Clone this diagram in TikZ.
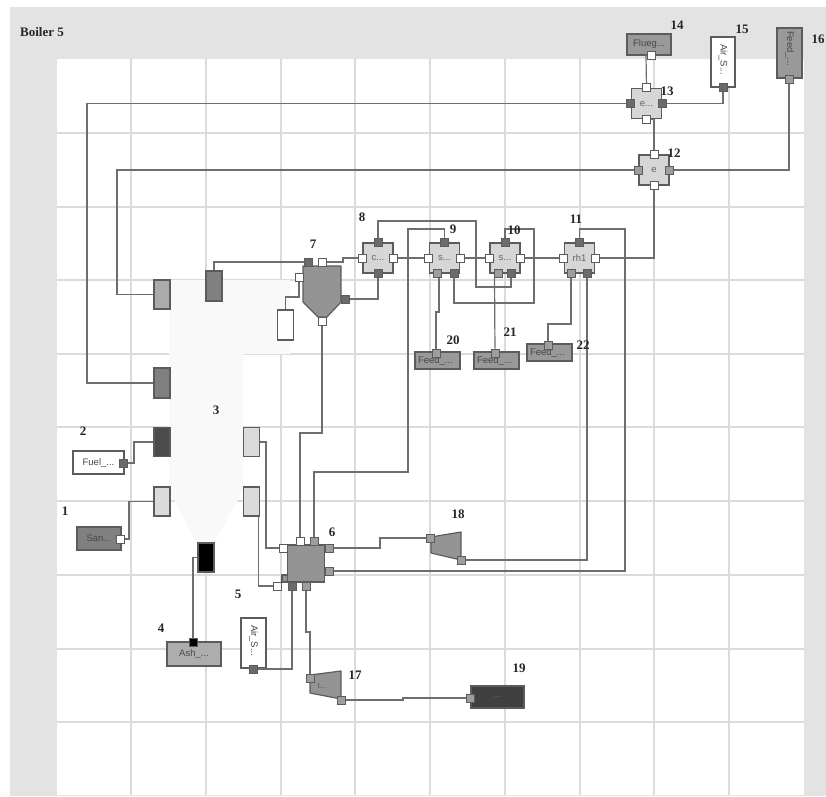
\documentclass[tikz,border=0pt]{standalone}
\usepackage{fontspec}
\setmainfont{Liberation Serif}
\setsansfont{Liberation Sans}
\usetikzlibrary{positioning}
\definecolor{panelclr}{rgb}{0.89, 0.89, 0.89}
\definecolor{gridclr}{rgb}{0.86, 0.86, 0.86}
\definecolor{furnclr}{rgb}{0.975, 0.975, 0.975}
\definecolor{lineclr}{rgb}{0.43, 0.43, 0.43}
\definecolor{edgeclr}{rgb}{0.36, 0.36, 0.36}
\definecolor{hxclr}{rgb}{0.84, 0.84, 0.84}
\definecolor{unitclr}{rgb}{0.58, 0.58, 0.58}
\definecolor{feedclr}{rgb}{0.6, 0.6, 0.6}
\tikzset{ %
  ,tag/.style={font=\fontsize{13}{13}\selectfont\bfseries, inner sep=0, text=black!85}
  ,block/.style={draw=edgeclr, line width=1.2pt, rectangle, inner sep=0, font=\fontsize{9.5}{10}\selectfont\sffamily, text=black!72}
  ,feed/.style={block, fill=feedclr, minimum width=45pt, minimum height=17pt, text width=39pt, align=left}
  ,vblock/.style={block, rotate=-90, minimum width=50pt, minimum height=24pt, align=left}
  ,stub/.style={draw=edgeclr, line width=1.2pt, rectangle, inner sep=0, minimum width=16pt, minimum height=29pt}
  ,hx/.style={block, fill=hxclr, minimum size=30pt, text=black!60}
  ,portw/.style={draw=edgeclr, line width=1pt, rectangle, inner sep=0, minimum size=8pt, fill=white}
  ,portm/.style={portw, fill=black!38}
  ,portd/.style={portw, fill=black!58}
  ,pipe/.style={draw=lineclr, line width=1.2pt}
  ,unit/.style={draw=edgeclr, line width=1.2pt, fill=unitclr, line join=round}
}
\begin{document}
\begin{tikzpicture}[x=1pt, y=-1pt]
    \useasboundingbox (0,0) rectangle (826,796);
    \fill[white] (0,0) rectangle (826,796);
    \fill[panelclr] (10,7) rectangle (826,796);
    \fill[white] (57,59) rectangle (804,795);
    \foreach \gx in {131,206,281,355,430,505,580,654,729}
      \draw[gridclr, line width=1.5pt] (\gx,59) -- (\gx,795);
    \foreach \gy in {133,207,280,354,427,501,575,649,722}
      \draw[gridclr, line width=1.5pt] (57,\gy) -- (804,\gy);
    \fill[furnclr] (169,280) -- (290,280) -- (290,354) -- (243,354) -- (243,490) -- (213,545) -- (198,545) -- (169,490) -- cycle;

    % units with their own outline
    \draw[unit] (303,266) -- (341,266) -- (341,302) -- (327,317) -- (318,317) -- (303,302) -- cycle;
    \draw[unit] (431,537) -- (461,532) -- (461,560) -- (431,553) -- cycle;
    \draw[unit] (310,675) -- (341,671) -- (341,699) -- (310,693) -- cycle;
    \draw[unit] (282,582) -- (282,575) -- (288,575) -- (288,582) -- cycle;
    \node[block, fill=unitclr, minimum width=37pt, minimum height=37pt] (mix) at (306,563.5) {};
    \node[font=\fontsize{8}{8}\selectfont\sffamily, text=black!65, inner sep=0] (turbtxt) at (322,686) {t...};

    % boxes on the outside
    \draw
    node[block, fill=feedclr, minimum width=44pt, minimum height=21pt] (flue) at (649,44.5) {Flueg...}
    node[vblock, fill=white, text width=36pt] (airtop) at (723,62) {Air\_S...}
    node[vblock, fill=feedclr, text width=44pt, minimum height=25pt] (feedtop) at (789.5,53) {Feed\_...}
    node[feed] (feeda) at (437.5,360.5) {Feed\_...}
    node[feed] (feedb) at (496.5,360.5) {Feed\_...}
    node[feed] (feedc) at (549.5,352.5) {Feed\_...}
    node[block, fill=white, minimum width=51pt, minimum height=23pt] (fuel) at (98.5,462.5) {Fuel\_...}
    node[block, fill=black!50, minimum width=44pt, minimum height=23pt] (sand) at (99,538.5) {San...}
    node[block, fill=black!32, minimum width=54pt, minimum height=24pt] (ash) at (194,654) {Ash\_...}
    node[vblock, fill=white, text width=36pt, minimum height=25pt] (airbot) at (253.5,643) {Air\_S...}
    node[block, fill=black!75, minimum width=53pt, minimum height=22pt, text=black!60] (stack) at (497.5,697) {...};

    % furnace side boxes
    \draw
    node[stub, fill=black!33] (wallb) at (162,294.5) {}
    node[stub, fill=black!50, minimum height=30pt] (walla) at (162,383) {}
    node[stub, fill=black!70] (burner) at (162,442) {}
    node[stub, fill=black!14] (sandin) at (162,501.5) {}
    node[stub, fill=black!50, minimum height=30pt] (flueout) at (214,286) {}
    node[stub, fill=white, minimum height=30pt] (cyclin) at (285.5,325) {}
    node[stub, fill=black!14] (airr) at (251.5,442) {}
    node[stub, fill=black!14] (airs) at (251.5,501.5) {}
    node[stub, fill=black] (ashout) at (206,557.5) {};

    % exchangers
    \draw
    node[hx] (ecoa) at (646.5,103.5) {e...}
    node[hx] (ecob) at (654,170) {e}
    node[hx] (cond) at (378,258) {c...}
    node[hx] (sha) at (444.5,258) {s...}
    node[hx] (shb) at (505,258) {s...}
    node[hx] (rha) at (579.5,258) {rh1};

    % ports
    \draw
    node[portw] (pflue) at (651,55) {}
    node[portd] (pairtop) at (723,87) {}
    node[portm] (pfeedtop) at (789,79) {}
    node[portw] (pecoan) at (ecoa.north) {}
    node[portw] (pecoas) at (ecoa.south) {}
    node[portd] (pecoaw) at (ecoa.west) {}
    node[portd] (pecoae) at (ecoa.east) {}
    node[portw] (pecobn) at (ecob.north) {}
    node[portw] (pecobs) at (ecob.south) {}
    node[portm] (pecobw) at (ecob.west) {}
    node[portm] (pecobe) at (ecob.east) {}
    node[portw] (pcondw) at (cond.west) {}
    node[portw] (pconde) at (cond.east) {}
    node[portd] (pcondn) at (cond.north) {}
    node[portd] (pconds) at (cond.south) {}
    node[portw] (pshaw) at (sha.west) {}
    node[portw] (pshae) at (sha.east) {}
    node[portd] (pshan) at (sha.north) {}
    node[portm] (pshal) at (437,273) {}
    node[portd] (pshar) at (454,273) {}
    node[portw] (pshbw) at (shb.west) {}
    node[portw] (pshbe) at (shb.east) {}
    node[portd] (pshbn) at (shb.north) {}
    node[portm] (pshbl) at (498,273) {}
    node[portd] (pshbr) at (511,273) {}
    node[portw] (prhaw) at (rha.west) {}
    node[portw] (prhae) at (rha.east) {}
    node[portd] (prhan) at (rha.north) {}
    node[portm] (prhal) at (571,273) {}
    node[portd] (prhar) at (587,273) {}
    node[portm] (pfeeda) at (436,353) {}
    node[portm] (pfeedb) at (495,353) {}
    node[portm] (pfeedc) at (548,345) {};
    \draw
    node[portd] (pcyca) at (308,262) {}
    node[portw] (pcycb) at (322,262) {}
    node[portw] (pcycw) at (299,277) {}
    node[portd] (pcyce) at (345,299) {}
    node[portw] (pcycs) at (322,321) {}
    node[portw] (pmixa) at (300,541) {}
    node[portm] (pmixb) at (314,541) {}
    node[portw] (pmixw) at (283,548) {}
    node[portw] (pmixv) at (277,586) {}
    node[portm] (pmixe) at (329,548) {}
    node[portm] (pmixf) at (329,571) {}
    node[portd] (pmixs) at (292,586) {}
    node[portm] (pmixt) at (306,586) {}
    node[portm] (pturbai) at (430,538) {}
    node[portm] (pturbao) at (461,560) {}
    node[portm] (pturbbi) at (310,678) {}
    node[portm] (pturbbo) at (341,700) {}
    node[portm] (pstack) at (470,698) {}
    node[portd] (pfuel) at (123,463) {}
    node[portw] (psand) at (120,539) {}
    node[portd] (pairbot) at (253,669) {}
    node[portd, fill=black] (pash) at (193,642) {};

    % pipes
    \draw[pipe] (pflue) -- (646,55) -- (pecoan);
    \draw[pipe] (pecoas) -| (pecobn);
    \draw[pipe] (pecoae) -| (pairtop);
    \draw[pipe] (pecoaw) -- (87,103.5) -- (87,383) -- (walla);
    \draw[pipe] (pecobw) -- (117,170) -- (117,294.5) -- (wallb);
    \draw[pipe] (pecobe) -| (pfeedtop);
    \draw[pipe] (pecobs) |- (prhae);
    \draw[pipe] (prhaw) -- (pshbe);
    \draw[pipe] (pshbw) -- (pshae);
    \draw[pipe] (pshaw) -- (pconde);
    \draw[pipe] (pcycb) -- (343,262) -- (343,258) -- (pcondw);
    \draw[pipe] (pcyca) -- (214,262) -- (flueout);
    \draw[pipe] (pcycw) -- (299,297) -- (285.5,297) -- (cyclin);
    \draw[pipe] (pcyce) -| (pconds);
    \draw[pipe] (pcycs) -- (322,433) -- (300,433) -- (pmixa);
    \draw[pipe] (pmixb) -- (314,472) -- (408,472) -- (408,229) -- (444.5,229) -- (pshan);
    \draw[pipe] (pcondn) -- (378,221) -- (476,221) -- (476,287) -- (511,287) -- (pshbr);
    \draw[pipe] (pshar) -- (454,303) -- (534,303) -- (534,229) -- (505,229) -- (pshbn);
    \draw[pipe] ([xshift=2pt]pshal.south) -- (439,312) -- (436,312) -- (pfeeda);
    \draw[pipe] ([xshift=1pt]pshbl.south west) -- (pfeedb);
    \draw[pipe] (prhal) -- (571,324) -- (548,324) -- (pfeedc);
    \draw[pipe] (prhar) -- (587,560) -- (pturbao);
    \draw[pipe] (prhan) -- (579.5,229) -- (625,229) -- (625,571) -- (pmixf);
    \draw[pipe] (pmixe) -- (380,548) -- (380,538) -- (pturbai);
    \draw[pipe] (pmixw) -- (266,548) -- (266,442) -- (airr);
    \draw[pipe] (pmixv) -| ([xshift=-2pt]airs.south east);
    \draw[pipe] (pmixs) -- (292,669) -- (pairbot);
    \draw[pipe] (pmixt) -- (306,632) -- (310,632) -- (pturbbi);
    \draw[pipe] (pturbbo) -- (403,700) -- (403,698) -- (pstack);
    \draw[pipe] (pash) |- (ashout);
    \draw[pipe] (pfuel) -- (134,463) -- (134,442) -- (burner);
    \draw[pipe] (psand) -- (129,539) -- (129,501.5) -- (sandin);

    % number tags
    \draw
    node[tag, anchor=west] (title) at (20,32) {Boiler 5}
    node[tag] (n1) at (65,511) {1}
    node[tag] (n2) at (83,431) {2}
    node[tag] (n3) at (216,410) {3}
    node[tag] (n4) at (161,628) {4}
    node[tag] (n5) at (238,594) {5}
    node[tag] (n6) at (332,532) {6}
    node[tag] (n7) at (313,244) {7}
    node[tag] (n8) at (362,217) {8}
    node[tag] (n9) at (453,229) {9}
    node[tag] (n10) at (514,230) {10}
    node[tag] (n11) at (576,219) {11}
    node[tag] (n12) at (674,153) {12}
    node[tag] (n13) at (667,91) {13}
    node[tag] (n14) at (677,25) {14}
    node[tag] (n15) at (742,29) {15}
    node[tag] (n16) at (818,39) {16}
    node[tag] (n17) at (355,675) {17}
    node[tag] (n18) at (458,514) {18}
    node[tag] (n19) at (519,668) {19}
    node[tag] (n20) at (453,340) {20}
    node[tag] (n21) at (510,332) {21}
    node[tag] (n22) at (583,345) {22};
\end{tikzpicture}
\end{document}
